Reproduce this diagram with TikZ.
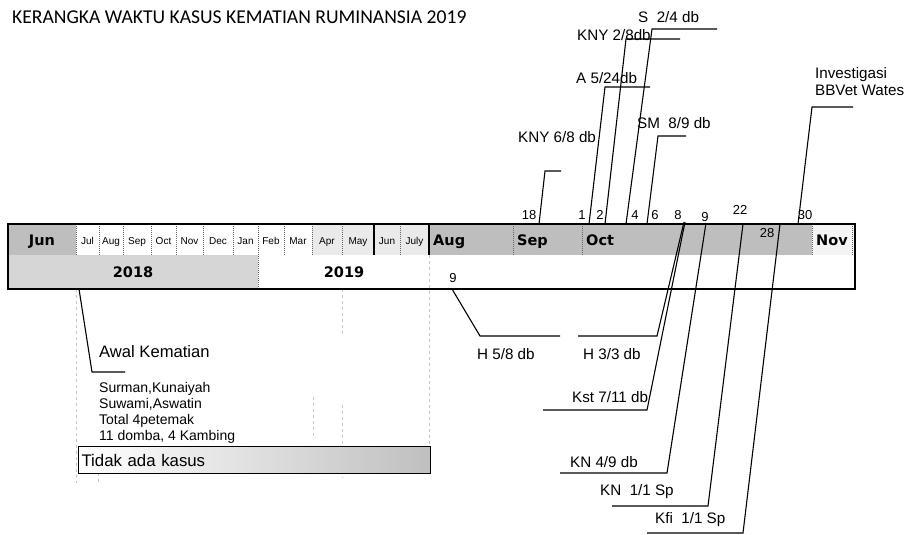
\documentclass[tikz,border=0pt]{standalone}
\usepackage{fontspec}
\setmainfont{Liberation Sans}
\newfontfamily\titlefont{Carlito}
\newfontfamily\barfont{DejaVu Sans}
\usetikzlibrary{positioning}

\definecolor{bargray}{RGB}{190,190,190}
\definecolor{yeargray}{RGB}{214,214,214}
\definecolor{lightcell}{RGB}{234,234,234}
\definecolor{novcell}{RGB}{244,244,244}

\tikzset{
  monthlbl/.style={font=\barfont\bfseries\fontsize{14.5}{16}\selectfont, inner sep=0pt},
  tinymonth/.style={font=\fontsize{10}{12}\selectfont, inner sep=0pt, anchor=base},
  daylbl/.style={font=\fontsize{13}{15}\selectfont, inner sep=0pt},
  callout/.style={font=\fontsize{15.2}{17}\selectfont, anchor=west, inner sep=0pt},
  infoline/.style={font=\fontsize{14}{16}\selectfont, anchor=base west, inner sep=0pt},
  leader/.style={line width=1.1pt},
  sepline/.style={densely dotted, line width=1pt, black!60},
  guide/.style={dashed, line width=0.8pt, gray!45},
}

\begin{document}
\begin{tikzpicture}[x=1pt, y=-1pt]
    \useasboundingbox (0,0) rectangle (913,535);

    \node[anchor=west, inner sep=0pt, font=\titlefont\fontsize{19.6}{22}\selectfont] (title) at (12,17)
        {KERANGKA WAKTU KASUS KEMATIAN RUMINANSIA 2019};

    % the bar
    \fill[bargray] (8,224) rectangle (76,255);
    \fill[lightcell] (312,224) rectangle (429,255);
    \fill[bargray] (429,224) rectangle (812,255);
    \fill[novcell] (812,224) rectangle (855,255);
    \fill[yeargray] (8,255) rectangle (258,289);
    \foreach \x in {76,99,123,151,176,203,233,284,312,342,400,513,582,812,852}
        \draw[sepline] (\x,224) -- (\x,255);
    \draw[sepline] (258,224) -- (258,289);
    \draw[line width=1.2pt] (374,224) -- (374,255);
    \draw[line width=1.2pt] (429,224) -- (429,255);

    % guides below
    \draw[guide] (429,255) -- (429,447);
    \draw[guide] (76,289) -- (76,483);
    \draw[guide] (342,289) -- (342,335);
    \draw[guide] (342,405) -- (342,478);
    \draw[guide] (313,397) -- (313,437);
    \draw[guide] (98,473) -- (98,483);

    \draw[line width=1.3pt] (8,224) rectangle (855,289);

    \node[monthlbl, anchor=base] (jun) at (42,245) {Jun};
    \node[monthlbl, anchor=base west] (aug) at (433,245) {Aug};
    \node[monthlbl, anchor=base west] (sep) at (517,245) {Sep};
    \node[monthlbl, anchor=base west] (oct) at (586,245) {Oct};
    \node[monthlbl, anchor=base west] (nov) at (816,245) {Nov};
    \foreach \m/\a/\b in {Jul/76/99, Aug/99/123, Sep/123/151, Oct/151/176, Nov/176/203,
        Dec/203/233, Jan/233/258, Feb/258/284, Mar/284/312, Apr/312/342, May/342/374,
        Jun/374/400, July/400/429}
        \node[tinymonth] (m\a) at ({(\a+\b)/2},244) {\m};
    \node[monthlbl, anchor=base] (y2018) at (133,277) {2018};
    \node[monthlbl, anchor=base] (y2019) at (344,277) {2019};

    % days
    \foreach \d/\x/\y in {18/529/215, 1/582/215, 2/600/215, 4/635/215, 6/655/215,
        8/678/215, 9/705/217, 22/740/210, 30/805/215}
        \node[daylbl] (day\d) at (\x,\y) {\d};
    \node[daylbl] (aug9) at (453,278) {9};
    \node[daylbl] (day28) at (767,233) {28};

    % leaders up
    \foreach \n/\xb/\xk/\yk/\xe in {kny6/539/545/171/561, a5/589/605/87/650,
        kny2/605/626/39/680, s2/626/652/29/717, sm8/647/658/136/686, inv/798/812/107/853}
    {
        \coordinate (\n-b) at (\xb,224);
        \coordinate (\n-k) at (\xk,\yk);
        \coordinate (\n-e) at (\xe,\yk);
        \draw[leader] (\n-b) -- (\n-k) -- (\n-e);
    }
    % leaders down
    \foreach \n/\xb/\yb/\xk/\yk/\xe in {h5/452/289/480/336/560, h3/684/222/657/336/578,
        kst/685/222/647/410/543, kn4/706/223/667/473/560, kn1/743/224/708/506/612,
        kfi/780/224/743/533/647, awal/79/289/92/372/125}
    {
        \coordinate (\n-b) at (\xb,\yb);
        \coordinate (\n-k) at (\xk,\yk);
        \coordinate (\n-e) at (\xe,\yk);
        \draw[leader] (\n-b) -- (\n-k) -- (\n-e);
    }

    \node[callout] (kny6t) at (518,137) {KNY 6/8 db};
    \node[callout] (a5t) at (576,78) {A 5/24db};
    \node[callout] (kny2t) at (577,35) {KNY 2/8db};
    \node[callout] (s2t) at (638,17) {S\ \ 2/4 db};
    \node[callout] (sm8t) at (637,123) {SM\ \ 8/9 db};
    \node[callout, anchor=north west, align=left] (invt) at (815,67) {Investigasi\\BBVet Wates};
    \node[callout] (h5t) at (477,354) {H 5/8 db};
    \node[callout] (h3t) at (583,354) {H 3/3 db};
    \node[callout] (kstt) at (572,397) {Kst 7/11 db};
    \node[callout] (kn4t) at (570,462) {KN 4/9 db};
    \node[callout] (kn1t) at (600,492) {KN\ \ 1/1 Sp};
    \node[callout] (kfit) at (655,520) {Kfi\ \ 1/1 Sp};

    \node[callout, font=\fontsize{16.6}{18}\selectfont] (awal) at (99,352) {Awal Kematian};
    \node[infoline] (info1) at (99,392) {Surman,Kunaiyah};
    \node[infoline] (info2) at ([yshift=-16pt]info1.base west) {Suwami,Aswatin};
    \node[infoline] (info3) at ([yshift=-16pt]info2.base west) {Total 4petemak};
    \node[infoline] (info4) at ([yshift=-16pt]info3.base west) {11 domba, 4 Kambing};

    \node[draw, line width=1.2pt, left color=white, right color=gray!50, anchor=north west,
        text width=346pt, inner xsep=3pt, inner ysep=0pt, minimum height=27pt, align=left,
        font=\fontsize{16.8}{18}\selectfont] (nocase) at (78,446) {Tidak ada kasus};
\end{tikzpicture}
\end{document}
